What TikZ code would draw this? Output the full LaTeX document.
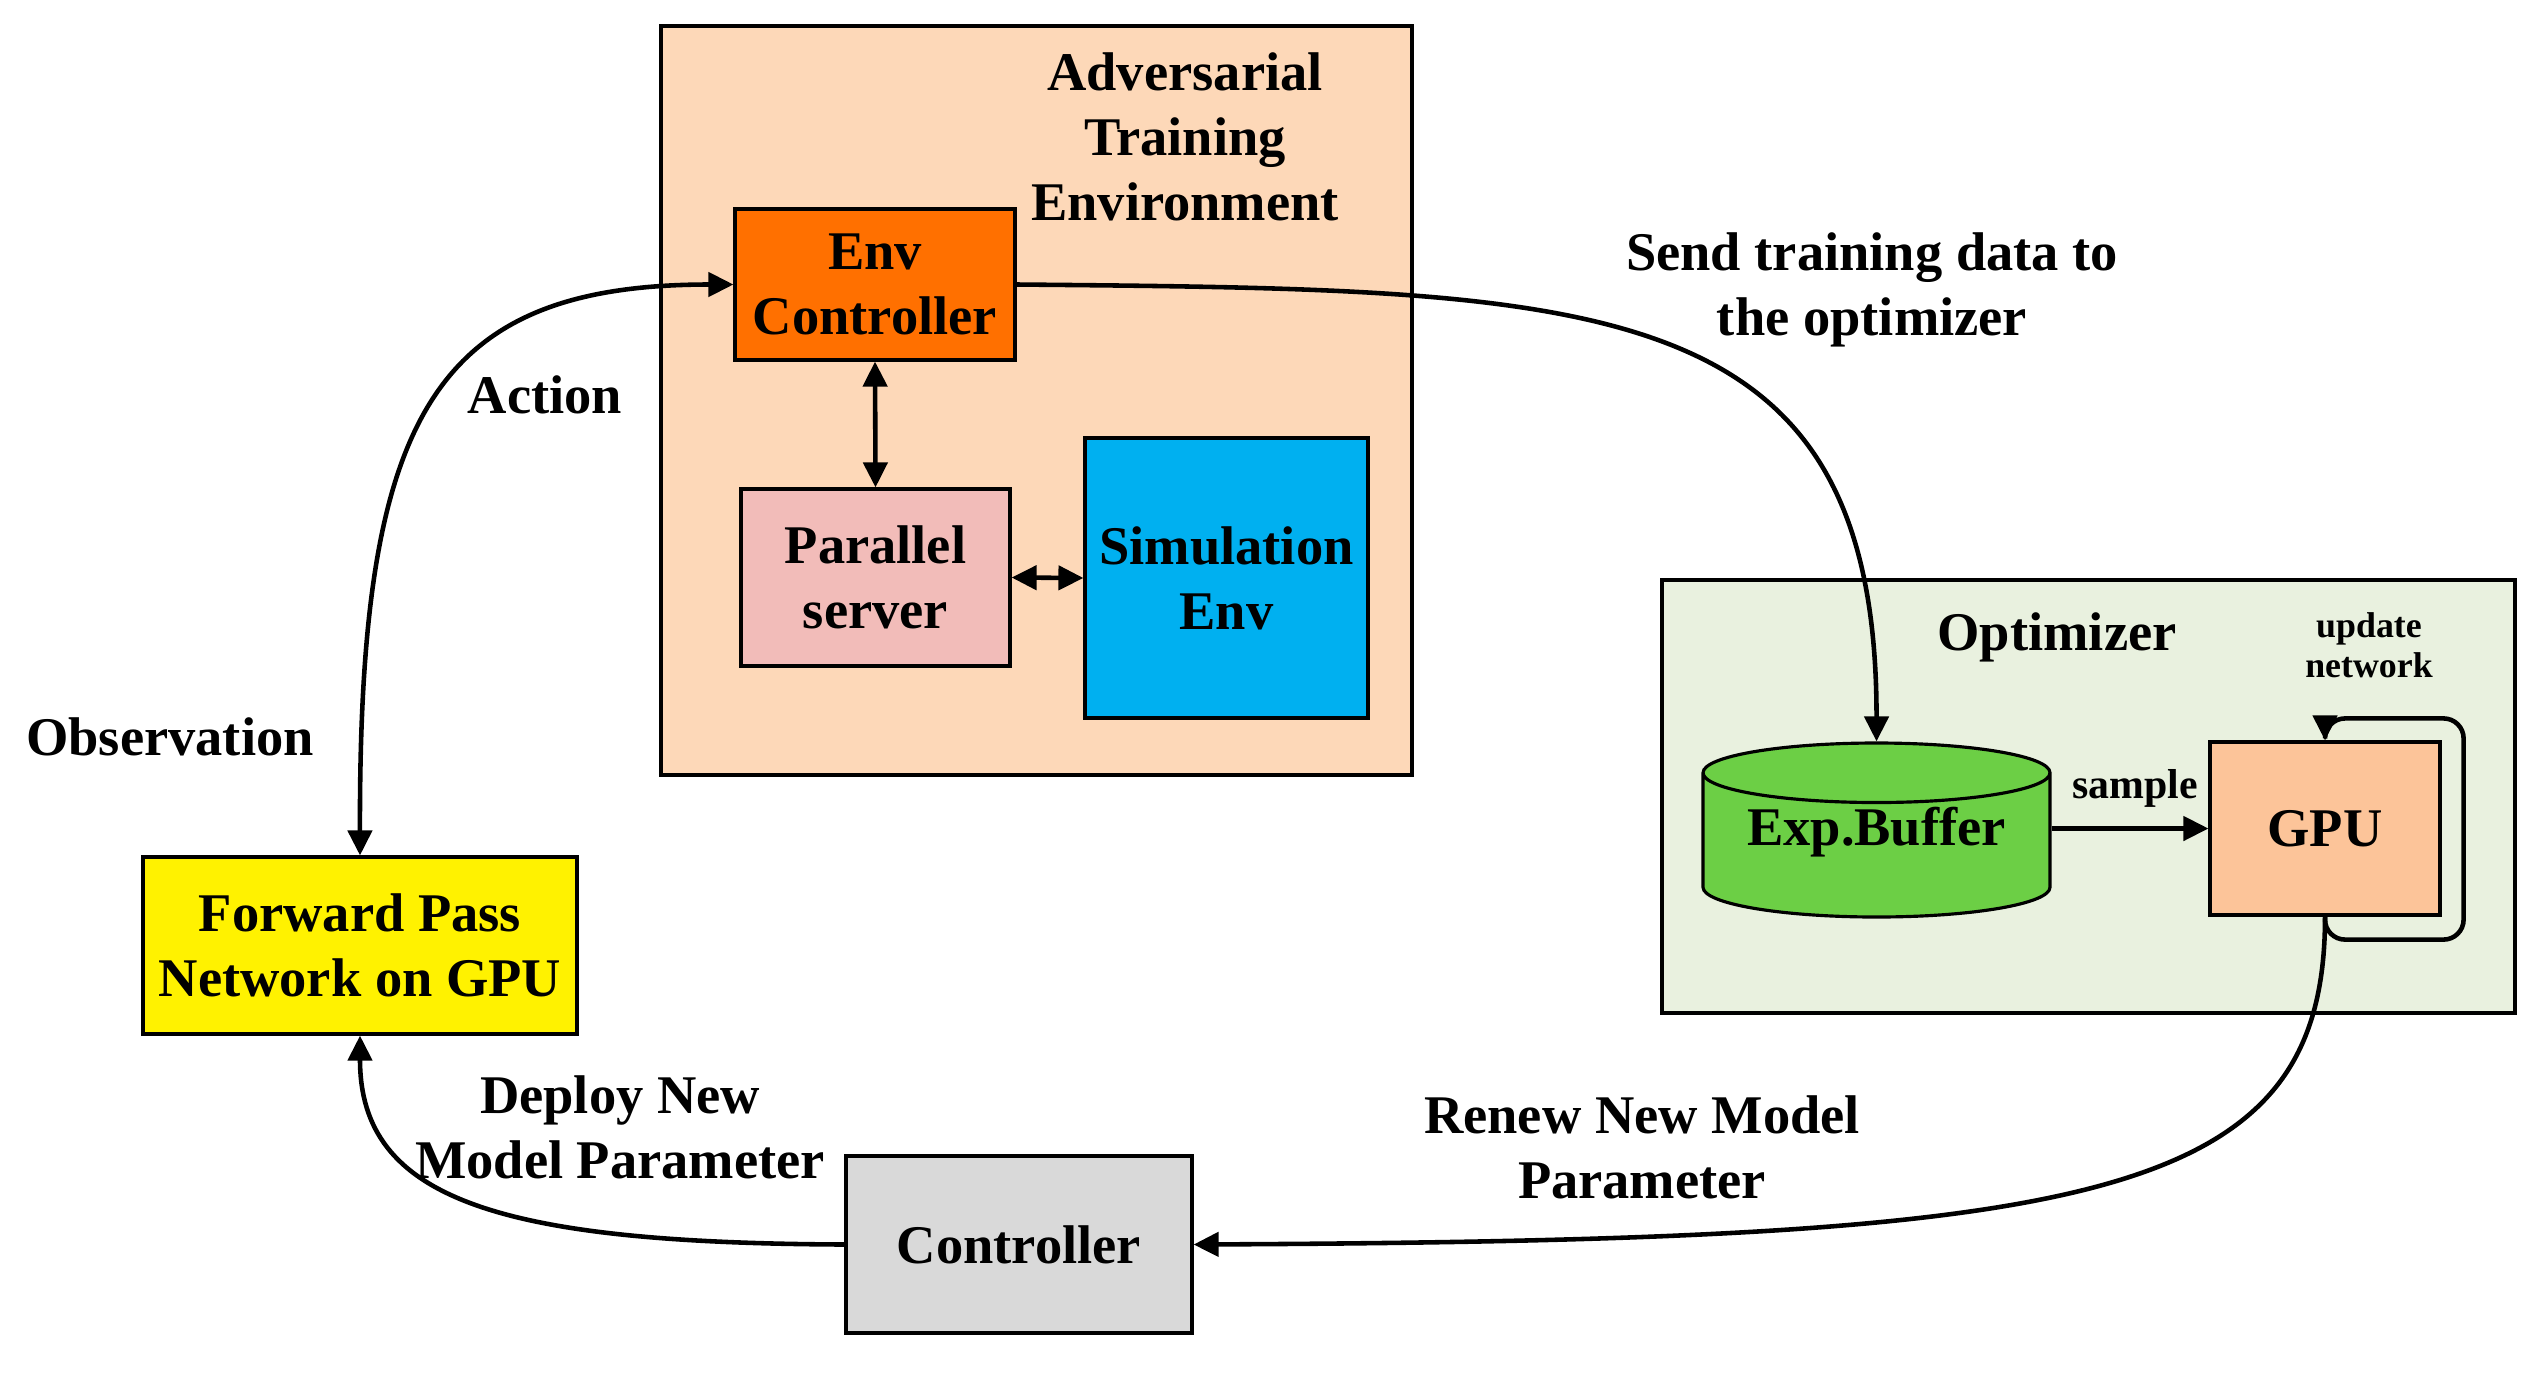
\documentclass[tikz,border=0pt]{standalone}
\usepackage{fontspec}
\setmainfont{Liberation Serif}
\usetikzlibrary{arrows.meta,shapes.geometric,calc}
\definecolor{advpeach}{RGB}{253,216,184}
\definecolor{envorange}{RGB}{255,112,0}
\definecolor{serverpink}{RGB}{242,188,185}
\definecolor{simblue}{RGB}{0,176,240}
\definecolor{optgreen}{RGB}{233,241,223}
\definecolor{bufgreen}{RGB}{108,207,69}
\definecolor{gpupeach}{RGB}{252,196,153}
\definecolor{ctrlgray}{RGB}{217,217,217}
\begin{document}
\begin{tikzpicture}[
    font=\fontsize{15.5}{18.5}\selectfont\bfseries,
    >={Triangle[length=0.25cm,width=0.24cm]},
    box/.style={draw,line width=0.9pt,align=center,inner sep=0pt},
    link/.style={line width=1.3pt},
    lbl/.style={align=center,inner sep=0pt}
]
    \useasboundingbox (0,0) rectangle (25.41,-13.74);
    \node[box,fill=advpeach,minimum width=7.51cm,minimum height=7.49cm] (adv) at (10.365,-4.005) {};
    \node[lbl] (advtitle) at (11.85,-1.37) {Adversarial\\Training\\Environment};
    \node[box,fill=envorange,minimum width=2.80cm,minimum height=1.51cm] (envctrl) at (8.75,-2.845) {Env\\Controller};
    \node[box,fill=serverpink,minimum width=2.69cm,minimum height=1.77cm] (server) at (8.755,-5.775) {Parallel\\server};
    \node[box,fill=simblue,minimum width=2.83cm,minimum height=2.80cm] (simenv) at (12.265,-5.78) {Simulation\\Env};
    \node[box,fill=optgreen,minimum width=8.53cm,minimum height=4.33cm] (opt) at (20.885,-7.965) {};
    \node[lbl] (opttitle) at (20.57,-6.37) {Optimizer};
    \node[box,cylinder,shape border rotate=90,aspect=0.23,fill=bufgreen,minimum width=3.47cm,minimum height=1.74cm,anchor=shape center] (buffer) at (18.765,-8.30) {\raisebox{0.14cm}[\height][\depth]{Exp.Buffer}};
    \node[box,fill=gpupeach,minimum width=2.30cm,minimum height=1.73cm] (gpu) at (23.25,-8.285) {GPU};
    \node[box,fill=yellow,minimum width=4.34cm,minimum height=1.77cm] (fwd) at (3.60,-9.455) {Forward Pass\\Network on GPU};
    \node[box,fill=ctrlgray,minimum width=3.46cm,minimum height=1.77cm] (ctrl) at (10.19,-12.445) {Controller};
    \node[lbl] (action) at (5.45,-3.95) {Action};
    \node[lbl] (obs) at (1.70,-7.37) {Observation};
    \node[lbl] (send) at (18.72,-2.90) {Send training data to\\the optimizer};
    \node[lbl] (renew) at (16.42,-11.47) {Renew New Model\\Parameter};
    \node[lbl] (deploy) at (6.20,-11.27) {Deploy New\\Model Parameter};
    \node[lbl,font=\fontsize{11.9}{14}\selectfont\bfseries] (sample) at (21.35,-7.88) {sample};
    \node[lbl,font=\fontsize{10.2}{11.4}\selectfont\bfseries] (update) at (23.69,-6.45) {update\\network};
    % Frecce curve tra i blocchi
    \draw[link,<->] (fwd.north) .. controls (3.59,-4.20) and (4.30,-2.845) .. (envctrl.west);
    \draw[link,<->] (envctrl.south) -- (server.north);
    \draw[link,<->] (server.east) -- (simenv.west);
    \draw[link,->] (envctrl.east) .. controls (16.00,-2.90) and (18.77,-2.90) .. (buffer.north);
    \draw[link,->] (buffer.east |- gpu.west) -- (gpu.west);
    \draw[link,->,rounded corners=0.2cm] (gpu.south) |- ($(gpu.south east)+(0.22,-0.23)$) |- ($(gpu.north)+(0,0.22)$) -- (gpu.north);
    \draw[link,->] (gpu.south) .. controls (23.25,-12.00) and (21.00,-12.40) .. (ctrl.east);
    \draw[link,->] (ctrl.west) .. controls (5.00,-12.43) and (3.60,-12.00) .. (fwd.south);
\end{tikzpicture}
\end{document}
